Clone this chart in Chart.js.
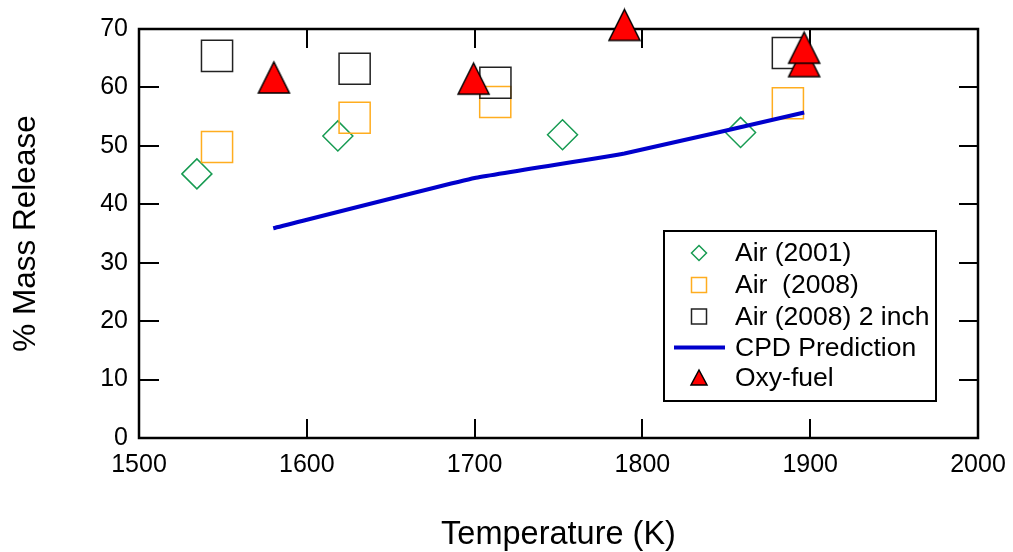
<!DOCTYPE html>
<html>
<head>
<meta charset="utf-8">
<title>% Mass Release vs Temperature</title>
<script src="https://cdn.jsdelivr.net/npm/chart.js@4.4.0/dist/chart.umd.min.js"></script>
<style>
  html, body { margin: 0; padding: 0; background: #fff; }
  #wrap { width: 1013px; height: 552px; }
</style>
</head>
<body>
<div id="wrap"><canvas id="massChart"></canvas></div>
<script>
// data
const air2001Temp = [1534.5, 1618.5, 1752.4, 1858.5];
const air2001Mass = [45.2, 51.7, 51.9, 52.3];

const air2008Temp = [1546.5, 1628.5, 1712.3, 1886.7];
const air2008Mass = [49.8, 54.8, 57.5, 57.3];

const air2inchTemp = [1546.5, 1628.5, 1712.4, 1886.7];
const air2inchMass = [65.4, 63.2, 60.8, 65.9];

const cpdTemp = [1580, 1700, 1789.3, 1896.4];
const cpdMass = [35.9, 44.5, 48.7, 55.7];

const oxyTemp = [1580.4, 1699.4, 1789.3, 1896.4, 1896.4];
const oxyMass = [61.7, 61.5, 70.7, 64.5, 66.8];

const xTicks = [1500, 1600, 1700, 1800, 1900, 2000];
const yTicks = [0, 10, 20, 30, 40, 50, 60, 70];

const FONT = "'Liberation Sans', Arial, Helvetica, sans-serif";

function pts(xs, ys) {
  return xs.map((x, i) => ({ x: x, y: ys[i] }));
}

// red triangle with black outline, as in the figure
function makeTriangle(w, h) {
  const c = document.createElement('canvas');
  c.width = w + 4;
  c.height = h + 4;
  const g = c.getContext('2d');
  g.beginPath();
  g.moveTo(c.width / 2, 2);
  g.lineTo(w + 2, h + 2);
  g.lineTo(2, h + 2);
  g.closePath();
  g.fillStyle = '#ff0000';
  g.fill();
  g.lineWidth = 1.5;
  g.strokeStyle = '#000';
  g.stroke();
  return c;
}

const triBig = makeTriangle(31, 31);

// frame + inward ticks on all four sides
const framePlugin = {
  id: 'frame',
  beforeDatasetsDraw(chart) {
    const { ctx, chartArea: a, scales } = chart;
    ctx.save();
    ctx.strokeStyle = '#000';
    ctx.lineWidth = 2;
    scales.x.ticks.forEach(t => {
      const px = Math.round(scales.x.getPixelForValue(t.value));
      ctx.beginPath();
      ctx.moveTo(px, a.bottom); ctx.lineTo(px, a.bottom - 19);
      ctx.moveTo(px, a.top); ctx.lineTo(px, a.top + 19);
      ctx.stroke();
    });
    scales.y.ticks.forEach(t => {
      const py = Math.round(scales.y.getPixelForValue(t.value));
      ctx.beginPath();
      ctx.moveTo(a.left, py); ctx.lineTo(a.left + 20, py);
      ctx.moveTo(a.right, py); ctx.lineTo(a.right - 19, py);
      ctx.stroke();
    });
    ctx.lineWidth = 2.5;
    ctx.strokeRect(a.left, a.top, a.right - a.left, a.bottom - a.top);
    ctx.restore();
  }
};

// legend box inside the plot
const legendPlugin = {
  id: 'boxLegend',
  afterDatasetsDraw(chart) {
    const ctx = chart.ctx;
    const left = 664, top = 231, right = 936, bottom = 401;
    const symX = 699, textX = 735;
    const rows = [253, 285, 316.5, 347.5, 378];
    ctx.save();
    ctx.fillStyle = '#fff';
    ctx.fillRect(left, top, right - left, bottom - top);
    ctx.strokeStyle = '#000';
    ctx.lineWidth = 2;
    ctx.strokeRect(left, top, right - left, bottom - top);

    const ds = chart.data.datasets;
    // legend order follows the figure, not the draw order
    const order = [4, 3, 2, 1, 0];
    order.forEach((di, r) => {
      const d = ds[di];
      const y = rows[r];
      ctx.lineWidth = 1.5;
      if (d.legendSym === 'diamond') {
        ctx.strokeStyle = d.borderColor;
        ctx.beginPath();
        ctx.moveTo(symX, y - 7.5); ctx.lineTo(symX + 7.5, y);
        ctx.lineTo(symX, y + 7.5); ctx.lineTo(symX - 7.5, y);
        ctx.closePath(); ctx.stroke();
      } else if (d.legendSym === 'square') {
        ctx.strokeStyle = d.borderColor;
        ctx.strokeRect(symX - 7.5, y - 7.5, 15, 15);
      } else if (d.legendSym === 'line') {
        ctx.strokeStyle = d.borderColor;
        ctx.lineWidth = 4;
        ctx.beginPath();
        ctx.moveTo(674, y); ctx.lineTo(725, y);
        ctx.stroke();
      } else if (d.legendSym === 'triangle') {
        ctx.beginPath();
        ctx.moveTo(symX, y - 8); ctx.lineTo(symX + 8, y + 7);
        ctx.lineTo(symX - 8, y + 7); ctx.closePath();
        ctx.fillStyle = '#ff0000'; ctx.fill();
        ctx.strokeStyle = '#000'; ctx.stroke();
      }
      ctx.fillStyle = '#000';
      ctx.font = '26.5px ' + FONT;
      ctx.textAlign = 'left';
      ctx.textBaseline = 'middle';
      ctx.fillText(d.label, textX, y + 1);
    });
    ctx.restore();
  }
};

const ctx = document.getElementById('massChart').getContext('2d');

new Chart(ctx, {
  type: 'scatter',
  data: {
    datasets: [
      {
        label: 'Oxy-fuel',
        data: pts(oxyTemp, oxyMass),
        pointStyle: triBig,
        pointRadius: 16,
        clip: false,
        order: 0,
        legendSym: 'triangle'
      },
      {
        label: 'CPD Prediction',
        type: 'line',
        data: pts(cpdTemp, cpdMass),
        borderColor: '#0000cc',
        borderWidth: 4,
        pointRadius: 0,
        fill: false,
        tension: 0.1,
        order: 1,
        legendSym: 'line'
      },
      {
        label: 'Air (2008) 2 inch',
        data: pts(air2inchTemp, air2inchMass),
        pointStyle: 'rect',
        pointRadius: 22,
        borderColor: '#222222',
        backgroundColor: 'rgba(0,0,0,0)',
        pointBorderWidth: 1.5,
        order: 2,
        legendSym: 'square'
      },
      {
        label: 'Air  (2008)',
        data: pts(air2008Temp, air2008Mass),
        pointStyle: 'rect',
        pointRadius: 22,
        borderColor: '#ffad1f',
        backgroundColor: 'rgba(0,0,0,0)',
        pointBorderWidth: 1.5,
        order: 3,
        legendSym: 'square'
      },
      {
        label: 'Air (2001)',
        data: pts(air2001Temp, air2001Mass),
        pointStyle: 'rectRot',
        pointRadius: 15,
        borderColor: '#179b52',
        backgroundColor: 'rgba(0,0,0,0)',
        pointBorderWidth: 1.5,
        order: 4,
        legendSym: 'diamond'
      }
    ]
  },
  options: {
    responsive: true,
    maintainAspectRatio: false,
    animation: false,
    layout: { padding: { left: 0, right: 35, top: 29, bottom: 0 } },
    plugins: {
      legend: { display: false },
      tooltip: { enabled: false }
    },
    scales: {
      x: {
        type: 'linear',
        min: 1500,
        max: 2000,
        afterFit: s => { s.height = 114; s.paddingRight = 0; s.paddingLeft = 0; },
        afterBuildTicks: s => { s.ticks = xTicks.map(v => ({ value: v })); },
        grid: { display: false, drawTicks: false },
        border: { display: false },
        ticks: {
          color: '#000', padding: 12, font: { family: FONT, size: 25 },
          callback: v => String(v)
        },
        title: {
          display: true,
          text: 'Temperature (K)',
          color: '#000',
          font: { family: FONT, size: 32.5 },
          padding: { top: 0, bottom: -3 }
        }
      },
      y: {
        min: 0,
        max: 70,
        afterFit: s => { s.width = 139; },
        afterBuildTicks: s => { s.ticks = yTicks.map(v => ({ value: v })); },
        grid: { display: false, drawTicks: false },
        border: { display: false },
        ticks: {
          color: '#000', padding: 11, font: { family: FONT, size: 25 },
          callback: v => String(v)
        },
        title: {
          display: true,
          text: '% Mass Release',
          color: '#000',
          font: { family: FONT, size: 31.5 },
          padding: { top: 7, bottom: 0 }
        }
      }
    }
  },
  plugins: [framePlugin, legendPlugin]
});
</script>
</body>
</html>
